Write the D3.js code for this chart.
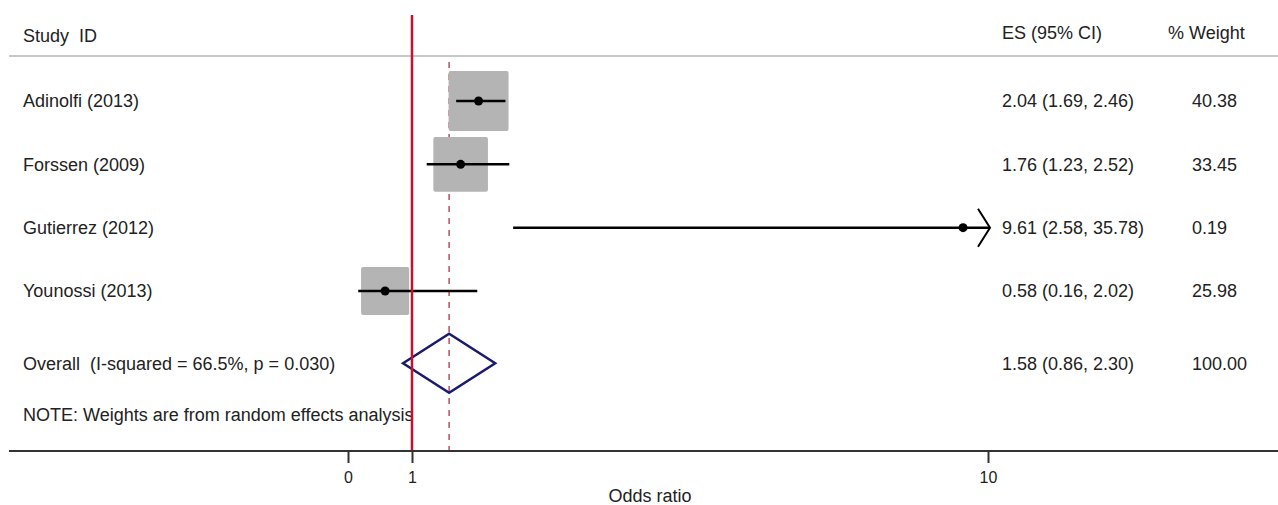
<!DOCTYPE html>
<html lang="en">
<head>
    <meta charset="UTF-8">
    <script src="https://d3js.org/d3.v7.min.js"></script>
    <style>
        body {margin: 0; background-color: #ffffff}
        svg {display: block; font-family: "Liberation Sans", Arial, sans-serif;}
    </style>
</head>
<body>
<svg class="forest"></svg>
<script type="text/javascript">
    // study rows
    let studies = ["Adinolfi (2013)", "Forssen (2009)", "Gutierrez (2012)", "Younossi (2013)"];
    let es = [2.04, 1.76, 9.61, 0.58];
    let ci_low = [1.69, 1.23, 2.58, 0.16];
    let ci_high = [2.46, 2.52, 35.78, 2.02];
    let weights = [40.38, 33.45, 0.19, 25.98];

    // pooled estimate
    let overall_label = "Overall  (I-squared = 66.5%, p = 0.030)";
    let overall_es = 1.58;
    let overall_low = 0.86;
    let overall_high = 2.30;
    let overall_weight = 100.00;

    let note = "NOTE: Weights are from random effects analysis";
    let x_ticks = [0, 1, 10];
    let x_title = "Odds ratio";
    let null_value = 1;

    let width = 1278;
    let height = 505;
    let axis_y = 451;
    let header_y = 56;
    let es_col = 1002;
    let wt_col = 1192;
    let text_color = "#222";

    var svg = d3.select(".forest")
        .attr("width", width)
        .attr("height", height);

    var x = d3.scaleLinear()
        .domain([0, 10])
        .range([348, 988]);
    let x_max = x.invert(990); // right edge of plot region, CIs beyond get an arrow

    var y = d3.scaleLinear()
        .domain([0, 3])
        .range([101, 291]);
    let overall_y = y(4.14);
    let note_y = y(4.96);

    var box_size = d3.scaleSqrt()
        .domain([0, 40.38])
        .range([0, 60]);

    function fmt(v) { return d3.format(".2f")(v); }

    // header
    svg.append('text').attr('x', 23).attr('y', 36).attr('dy', '0.35em')
        .attr('font-size', 18).attr('fill', text_color).attr('xml:space', 'preserve')
        .text("Study  ID");
    svg.append('text').attr('x', es_col).attr('y', 33).attr('dy', '0.35em')
        .attr('font-size', 18).attr('fill', text_color).text("ES (95% CI)");
    svg.append('text').attr('x', 1168).attr('y', 33).attr('dy', '0.35em')
        .attr('font-size', 18).attr('fill', text_color).text("% Weight");
    svg.append('line').attr('stroke', '#c8c8c8').attr('stroke-width', 2)
        .attr('x1', 9).attr('x2', width)
        .attr('y1', header_y).attr('y2', header_y);

    // dashed line at the overall estimate
    svg.append('line').attr('stroke', '#b5505e').attr('stroke-width', 1.5)
        .attr('stroke-dasharray', '6,6')
        .attr('x1', x(overall_es)).attr('x2', x(overall_es))
        .attr('y1', 62).attr('y2', axis_y);

    var rows = svg.selectAll('g.study')
        .data(studies)
        .enter()
        .append('g')
        .attr('class', 'study');

    // weight boxes
    rows.append('rect')
        .attr('x', function (d, i) { return x(es[i]) - box_size(weights[i]) / 2; })
        .attr('y', function (d, i) { return y(i) - box_size(weights[i]) / 2; })
        .attr('width', function (d, i) { return box_size(weights[i]); })
        .attr('height', function (d, i) { return box_size(weights[i]); })
        .attr('rx', 2)
        .attr('fill', '#b4b4b4');

    // confidence intervals
    rows.append('line')
        .attr('stroke', '#000').attr('stroke-width', 2.5)
        .attr('x1', function (d, i) { return x(ci_low[i]); })
        .attr('x2', function (d, i) { return x(Math.min(ci_high[i], x_max)); })
        .attr('y1', function (d, i) { return y(i); })
        .attr('y2', function (d, i) { return y(i); });

    rows.append('circle')
        .attr('r', 4.5)
        .attr('cx', function (d, i) { return x(es[i]); })
        .attr('cy', function (d, i) { return y(i); })
        .attr('fill', '#000');

    // open arrowhead where the interval runs off the plot
    rows.filter(function (d, i) { return ci_high[i] > x_max; })
        .append('polyline')
        .attr('fill', 'none').attr('stroke', '#000').attr('stroke-width', 2)
        .attr('points', function (d) {
            let i = studies.indexOf(d);
            let tip = x(x_max);
            return [[tip - 12, y(i) - 19], [tip, y(i)], [tip - 12, y(i) + 19]].join(' ');
        });

    rows.append('text')
        .attr('x', 23).attr('y', function (d, i) { return y(i); }).attr('dy', '0.35em')
        .attr('font-size', 18).attr('fill', text_color)
        .text(function (d) { return d; });
    rows.append('text')
        .attr('x', es_col).attr('y', function (d, i) { return y(i); }).attr('dy', '0.35em')
        .attr('font-size', 18).attr('fill', text_color)
        .text(function (d, i) { return fmt(es[i]) + " (" + fmt(ci_low[i]) + ", " + fmt(ci_high[i]) + ")"; });
    rows.append('text')
        .attr('x', wt_col).attr('y', function (d, i) { return y(i); }).attr('dy', '0.35em')
        .attr('font-size', 18).attr('fill', text_color)
        .text(function (d, i) { return fmt(weights[i]); });

    // overall diamond
    let half_h = 29.5;
    svg.append('polygon')
        .attr('fill', 'none').attr('stroke', '#1a1a6e').attr('stroke-width', 2.5)
        .attr('points', [[x(overall_low), overall_y], [x(overall_es), overall_y - half_h],
            [x(overall_high), overall_y], [x(overall_es), overall_y + half_h]].join(' '));

    svg.append('text').attr('x', 23).attr('y', overall_y).attr('dy', '0.35em')
        .attr('font-size', 18).attr('fill', text_color).attr('xml:space', 'preserve')
        .text(overall_label);
    svg.append('text').attr('x', es_col).attr('y', overall_y).attr('dy', '0.35em')
        .attr('font-size', 18).attr('fill', text_color)
        .text(fmt(overall_es) + " (" + fmt(overall_low) + ", " + fmt(overall_high) + ")");
    svg.append('text').attr('x', wt_col).attr('y', overall_y).attr('dy', '0.35em')
        .attr('font-size', 18).attr('fill', text_color)
        .text(fmt(overall_weight));

    svg.append('text').attr('x', 23).attr('y', note_y).attr('dy', '0.35em')
        .attr('font-size', 18).attr('fill', text_color)
        .text(note);

    // null line
    svg.append('line').attr('stroke', '#c8102e').attr('stroke-width', 2.5)
        .attr('x1', x(null_value)).attr('x2', x(null_value))
        .attr('y1', 15).attr('y2', axis_y);

    // x axis
    svg.append('line').attr('stroke', '#333').attr('stroke-width', 2)
        .attr('x1', 9).attr('x2', width)
        .attr('y1', axis_y).attr('y2', axis_y);

    var axis = d3.axisBottom(x).tickValues(x_ticks).tickSize(12).tickPadding(9)
        .tickFormat(d3.format("d"));
    var g_axis = svg.append('g').attr('transform', 'translate(0,' + axis_y + ')').call(axis);
    g_axis.attr('font-size', null).attr('font-family', null);
    g_axis.select('.domain').remove();
    g_axis.selectAll('.tick line').attr('stroke', '#333').attr('stroke-width', 2);
    g_axis.selectAll('.tick text')
        .style('font-size', '16px').style('fill', text_color);

    svg.append('text').attr('x', 650).attr('y', 496).attr('dy', '0.35em')
        .attr('text-anchor', 'middle')
        .attr('font-size', 18).attr('fill', text_color).text(x_title);
</script>
</body>
</html>
